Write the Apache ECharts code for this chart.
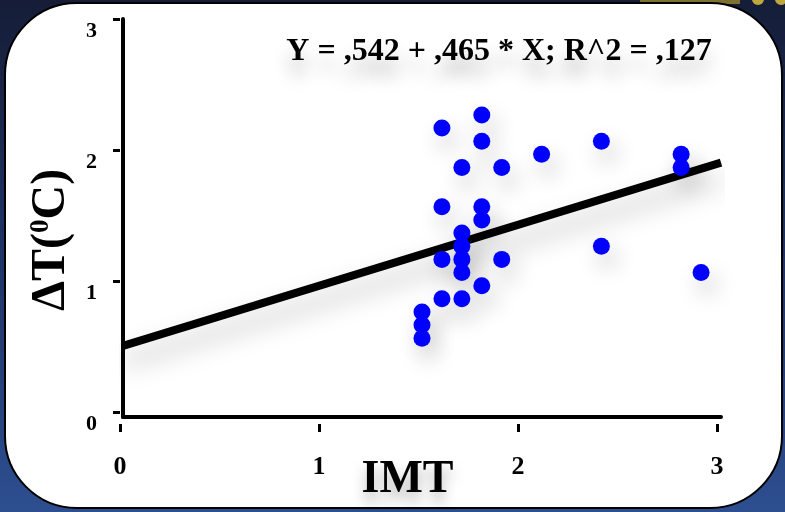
<!DOCTYPE html>
<html>
<head>
<meta charset="utf-8">
<style>
  html, body { margin: 0; padding: 0; background: #1c2a50; }
  #chart { width: 785px; height: 512px; }
</style>
<script src="https://cdn.jsdelivr.net/npm/echarts@6/dist/echarts.min.js"></script>
</head>
<body>
<div id="chart"></div>
<script>
// IMT (x) against temperature change ΔT (y), one entry per subject
const imt    = [1.6, 1.8, 1.8, 1.7, 1.9, 2.1, 1.6, 1.8, 1.8, 1.7, 1.7, 1.6, 1.7, 1.9, 1.7, 1.8, 1.6, 1.7, 1.5, 1.5, 1.5, 2.4, 2.8, 2.8, 2.4, 2.9];
const deltaT = [2.2, 2.3, 2.1, 1.9, 1.9, 2.0, 1.6, 1.6, 1.5, 1.4, 1.3, 1.2, 1.2, 1.2, 1.1, 1.0, 0.9, 0.9, 0.8, 0.7, 0.6, 2.1, 2.0, 1.9, 1.3, 1.1];

// Linear fit coefficients as reported
const fitIntercept = 0.542;
const fitSlope = 0.465;
const fitR2 = 0.127;

// Axis ranges and tick labels
const xRange = [0, 3];
const yRange = [0, 3];
const xTickLabels = ['0', '1', '2', '3'];
const yTickLabels = ['0', '1', '2', '3'];

const SERIF = '"Liberation Serif", "Times New Roman", "DejaVu Serif", serif';

// ",542" style decimal (comma separator, no leading zero)
const dec = v => ',' + v.toFixed(3).slice(2);
const equation = 'Y = ' + dec(fitIntercept) + ' + ' + dec(fitSlope) + ' * X; R^2 = ' + dec(fitR2);

const points = imt.map((x, i) => [x, deltaT[i]]);
const fitLine = xRange.map(x => [x, fitIntercept + fitSlope * x]);

const haze = 'rgba(0,0,0,0.28)';

const chart = echarts.init(document.getElementById('chart'), null, { renderer: 'canvas' });

chart.setOption({
  animation: false,
  backgroundColor: {
    type: 'linear', x: 0, y: 0, x2: 0, y2: 1,
    colorStops: [
      { offset: 0, color: '#151d37' },
      { offset: 0.5, color: '#1f3466' },
      { offset: 1, color: '#2d4e90' }
    ]
  },
  graphic: [
    // decorative strip peeking out at the top right
    { type: 'rect', z: -20, shape: { x: 640, y: 0, width: 100, height: 4 }, style: { fill: '#7d7030' } },
    { type: 'circle', z: -20, shape: { cx: 758, cy: -1, r: 6 }, style: { fill: '#bfa93e' } },
    { type: 'circle', z: -20, shape: { cx: 781, cy: -1, r: 6 }, style: { fill: '#bfa93e' } },
    // white rounded panel
    {
      type: 'rect', z: -10,
      shape: { x: 5, y: 3, width: 777, height: 505, r: 72 },
      style: { fill: '#ffffff', stroke: '#000000', lineWidth: 2 }
    },
    // regression equation
    {
      type: 'text', z: 10,
      x: 499, y: 52,
      style: {
        text: equation,
        align: 'center', verticalAlign: 'middle',
        fontFamily: SERIF, fontWeight: 'bold', fontSize: 32,
        fill: '#000000',
        textShadowColor: haze, textShadowBlur: 18, textShadowOffsetY: 16
      }
    }
  ],
  grid: [
    // plotting area (data scale)
    { left: 123, right: 64, top: 19, bottom: 95, outerBoundsMode: 'none', containLabel: false },
    // tick / label frame
    { left: 120, right: 68, top: 19, bottom: 100, outerBoundsMode: 'none', containLabel: false }
  ],
  xAxis: [
    {
      gridIndex: 0, type: 'value', min: xRange[0], max: xRange[1],
      axisLine: { show: true, onZero: false, lineStyle: { color: '#000', width: 4 } },
      axisTick: { show: false }, axisLabel: { show: false }, splitLine: { show: false }
    },
    {
      gridIndex: 1, type: 'value', min: xRange[0], max: xRange[1], interval: 1,
      position: 'bottom', offset: 12,
      axisLine: { show: false, onZero: false },
      axisTick: { show: true, length: 8, lineStyle: { color: '#000', width: 3 } },
      axisLabel: {
        margin: 30, color: '#000', fontFamily: SERIF, fontWeight: 'bold', fontSize: 26,
        formatter: v => xTickLabels[Math.round(v)]
      },
      splitLine: { show: false },
      name: 'IMT', nameLocation: 'middle', nameGap: 33, nameMoveOverlap: false,
      nameTextStyle: {
        color: '#000', fontFamily: SERIF, fontWeight: 'bold', fontSize: 46,
        padding: [0, 22, 0, 0],
        textShadowColor: haze, textShadowBlur: 14, textShadowOffsetY: 10
      }
    }
  ],
  yAxis: [
    {
      gridIndex: 0, type: 'value', min: yRange[0], max: 3.03,
      axisLine: { show: true, onZero: false, lineStyle: { color: '#000', width: 4 } },
      axisTick: { show: false }, axisLabel: { show: false }, splitLine: { show: false }
    },
    {
      gridIndex: 1, type: 'value', min: yRange[0], max: yRange[1], interval: 1,
      axisLine: { show: false, onZero: false },
      axisTick: { show: true, length: 7, lineStyle: { color: '#000', width: 3 } },
      axisLabel: {
        margin: 23, color: '#000', fontFamily: SERIF, fontWeight: 'bold', fontSize: 22,
        verticalAlign: 'top', padding: [1, 0, 0, 0],
        formatter: v => yTickLabels[Math.round(v)]
      },
      splitLine: { show: false },
      name: '{n|ΔT(}{s|0}{n|C)}', nameLocation: 'middle', nameRotate: 90, nameGap: 44,
      nameMoveOverlap: false,
      nameTextStyle: {
        color: '#000', padding: [0, 49, 0, 0],
        rich: {
          n: { fontFamily: SERIF, fontWeight: 'bold', fontSize: 48, color: '#000' },
          s: { fontFamily: SERIF, fontWeight: 'bold', fontSize: 27, color: '#000', verticalAlign: 'top', padding: [0, 0, 16, 0] }
        }
      }
    }
  ],
  series: [
    {
      type: 'line', xAxisIndex: 0, yAxisIndex: 0, z: 2,
      data: fitLine, symbol: 'none', silent: true,
      lineStyle: {
        color: '#000', width: 8, cap: 'butt',
        shadowColor: haze, shadowBlur: 26, shadowOffsetY: 16
      }
    },
    {
      type: 'scatter', xAxisIndex: 0, yAxisIndex: 0, z: 3,
      data: points, symbol: 'circle', symbolSize: 17,
      itemStyle: {
        color: '#0000ff', opacity: 1,
        shadowColor: 'rgba(0,0,0,0.22)', shadowBlur: 22, shadowOffsetX: 6, shadowOffsetY: 12
      }
    }
  ]
});
</script>
</body>
</html>
